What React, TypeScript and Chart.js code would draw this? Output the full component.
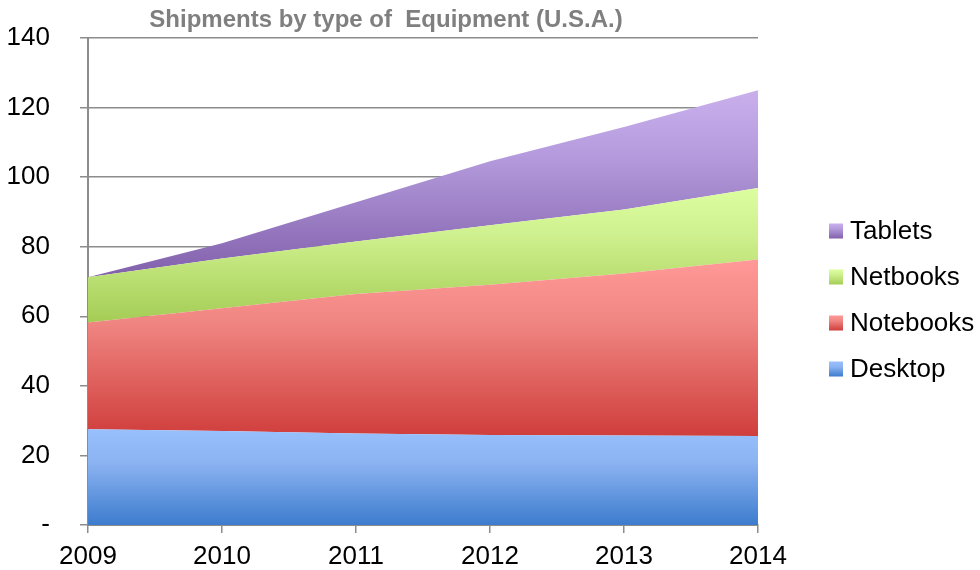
import React, { useEffect, useRef } from "react";
import { Chart, registerables } from "chart.js";
Chart.register(...registerables);

const years = ["2009", "2010", "2011", "2012", "2013", "2014"];
const desktop = [27.5, 27.0, 26.3, 25.9, 25.7, 25.6];
const notebooks = [30.7, 35.3, 40.1, 43.2, 46.6, 50.7];
const netbooks = [13.0, 14.3, 15.1, 17.1, 18.4, 20.6];
const tablets = [0, 4.4, 11.3, 18.4, 23.7, 28.1];
const seriesNames = ["Desktop", "Notebooks", "Netbooks", "Tablets"];
const titleText = "Shipments by type of  Equipment (U.S.A.)";
const yMin = 0;
const yMax = 140;
const yStep = 20;

const palettes = [
  ["#98C0FC", "#8CB3F2", "#3C7CCD"],
  ["#FF9997", "#F08682", "#CF3E3C"],
  ["#DCFEA0", "#CFF08E", "#A4CD55"],
  ["#C9B0EC", "#B59BDD", "#8160AB"],
];

const FONT = "'Liberation Sans', Arial, sans-serif";
const GRID = "#8c8c8c";

const allSeries = [desktop, notebooks, netbooks, tablets];

function cumulative(idx: number): number[] {
  return years.map((_, j) => {
    let s = 0;
    for (let k = 0; k <= idx; k++) s += allSeries[k][j];
    return s;
  });
}

function makeGradient(ctx: CanvasRenderingContext2D, y0: number, y1: number, pal: string[]) {
  const g = ctx.createLinearGradient(0, y0, 0, y1);
  g.addColorStop(0, pal[0]);
  g.addColorStop(0.35, pal[1]);
  g.addColorStop(1, pal[2]);
  return g;
}

const titlePlugin = {
  id: "customTitle",
  afterDraw(chart: any) {
    const ctx = chart.ctx;
    ctx.save();
    ctx.font = `bold 24px ${FONT}`;
    ctx.fillStyle = "#7f7f7f";
    ctx.textAlign = "center";
    ctx.textBaseline = "alphabetic";
    ctx.fillText(titleText, 386, 27);
    ctx.restore();
  },
};

const legendPlugin = {
  id: "customLegend",
  afterDraw(chart: any) {
    const ctx = chart.ctx;
    ctx.save();
    ctx.font = `26px ${FONT}`;
    ctx.textBaseline = "middle";
    ctx.textAlign = "left";
    const order = [3, 2, 1, 0];
    order.forEach((si, k) => {
      const cy = 231 + k * 46;
      const bx = 829;
      const by = cy - 7.5;
      ctx.fillStyle = makeGradient(ctx, by, by + 15, palettes[si]);
      ctx.fillRect(bx, by, 14, 15);
      ctx.fillStyle = "#000";
      ctx.fillText(seriesNames[si], 850, cy + 1);
    });
    ctx.restore();
  },
};

export default function App() {
  const ref = useRef<HTMLCanvasElement | null>(null);
  useEffect(() => {
    if (!ref.current) return;
    const datasets = allSeries.map((data, i) => {
      const top = Math.max(...cumulative(i));
      const bottom = i === 0 ? 0 : Math.min(...cumulative(i - 1));
      return {
        label: seriesNames[i],
        data,
        fill: i === 0 ? "origin" : "-1",
        borderWidth: 0,
        borderColor: "rgba(0,0,0,0)",
        pointRadius: 0,
        tension: 0,
        backgroundColor: (c: any) => {
          const chart = c.chart;
          const ys = chart.scales && chart.scales.y;
          if (!ys || !chart.chartArea) return palettes[i][0];
          const p0 = ys.getPixelForValue(top);
          const p1 = ys.getPixelForValue(bottom);
          return makeGradient(chart.ctx, p0, p1, palettes[i]);
        },
      };
    });
    const chart = new Chart(ref.current, {
      type: "line",
      data: { labels: years, datasets: datasets as any },
      options: {
        responsive: false,
        animation: false,
        events: [],
        layout: { padding: { top: 38, right: 222, bottom: 0, left: 0 } },
        plugins: {
          legend: { display: false },
          title: { display: false },
          tooltip: { enabled: false },
        },
        scales: {
          x: {
            offset: false,
            grid: {
              display: true,
              drawOnChartArea: false,
              drawTicks: true,
              tickLength: 8,
              color: GRID,
              lineWidth: 1.5,
            },
            border: { display: true, color: GRID, width: 2 },
            ticks: {
              color: "#000",
              font: { family: FONT, size: 26 },
              padding: 8,
              maxRotation: 0,
              autoSkip: false,
            },
            afterFit(scale: any) {
              scale.height = 45;
              scale.paddingLeft = 0;
              scale.paddingRight = 0;
            },
          },
          y: {
            stacked: true,
            min: yMin,
            max: yMax,
            grid: {
              display: true,
              drawOnChartArea: true,
              drawTicks: true,
              tickLength: 8,
              color: GRID,
              lineWidth: 1.5,
            },
            border: { display: true, color: GRID, width: 2 },
            ticks: {
              stepSize: yStep,
              color: "#000",
              font: { family: FONT, size: 26 },
              padding: 30,
              callback: (v: any) => (Number(v) === 0 ? "-" : String(v)),
            },
            afterFit(scale: any) {
              scale.width = 88;
              scale.paddingTop = 0;
              scale.paddingBottom = 0;
            },
          },
        },
      },
      plugins: [titlePlugin, legendPlugin],
    });
    return () => chart.destroy();
  }, []);
  return (
    <div style={{ position: "absolute", left: 0, top: 0, width: 980, height: 570, background: "#fff" }}>
      <canvas ref={ref} width={980} height={570} style={{ width: 980, height: 570, display: "block" }} />
    </div>
  );
}
